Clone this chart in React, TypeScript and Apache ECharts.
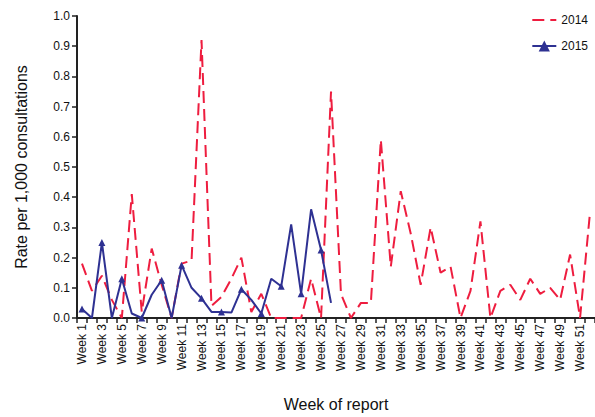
import React, { useEffect, useRef } from "react";
import * as echarts from "echarts";

const categories: string[] = Array.from({ length: 52 }, (_, i) => `Week ${i + 1}`);

const rate2014: number[] = [
  0.18, 0.09, 0.14, 0.06, 0, 0.41, 0.02, 0.23, 0.11, 0,
  0.18, 0.19, 0.92, 0.04, 0.07, 0.13, 0.2, 0.02, 0.08, 0,
  0, 0, 0, 0.13, 0, 0.75, 0.08, 0, 0.05, 0.05,
  0.59, 0.17, 0.42, 0.28, 0.11, 0.3, 0.15, 0.17, 0, 0.09,
  0.32, 0, 0.09, 0.11, 0.06, 0.13, 0.08, 0.1, 0.06, 0.21,
  0, 0.35,
];

const rate2015: number[] = [
  0.03, 0, 0.25, 0, 0.13, 0.015, 0, 0.077, 0.125, 0,
  0.175, 0.1, 0.065, 0.02, 0.02, 0.018, 0.095, 0.06, 0.015, 0.13,
  0.105, 0.31, 0.08, 0.36, 0.225, 0.05,
];

const FONT = "Liberation Sans, Arial, sans-serif";
const RED = "#ee1d3f";
const BLUE = "#2e3192";

export default function App() {
  const ref = useRef<HTMLDivElement>(null);
  useEffect(() => {
    document.body.style.margin = "0";
    if (!ref.current) return;
    const chart = echarts.init(ref.current, undefined, { renderer: "svg" });
    chart.setOption({
      animation: false,
      textStyle: { fontFamily: FONT },
      grid: { left: 77, top: 16, bottom: 96, width: 527 },
      legend: {
        orient: "vertical",
        right: 2,
        top: 9,
        itemWidth: 24,
        itemHeight: 14,
        itemGap: 14,
        textStyle: { fontFamily: FONT, fontSize: 12, color: "#111" },
        data: [
          { name: "2014", itemStyle: { opacity: 0 }, lineStyle: { color: RED, width: 2, type: [12, 6] } },
          { name: "2015" },
        ],
      },
      xAxis: {
        type: "category",
        data: categories,
        boundaryGap: true,
        name: "Week of report",
        nameLocation: "middle",
        nameGap: 78,
        nameTextStyle: { fontFamily: FONT, fontSize: 16, color: "#111" },
        axisLine: { lineStyle: { color: "#222", width: 2 } },
        axisTick: { show: true, interval: 0, length: 5, lineStyle: { color: "#222", width: 1.5 } },
        axisLabel: {
          interval: 1,
          rotate: 90,
          margin: 6,
          fontFamily: FONT,
          fontSize: 12,
          color: "#111",
        },
        splitLine: { show: false },
      },
      yAxis: {
        type: "value",
        min: 0,
        max: 1,
        interval: 0.1,
        name: "Rate per 1,000 consultations",
        nameLocation: "middle",
        nameGap: 48,
        nameRotate: 90,
        nameTextStyle: { fontFamily: FONT, fontSize: 16, color: "#111" },
        axisLine: { show: true, lineStyle: { color: "#222", width: 2 } },
        axisTick: { show: true, length: 5, lineStyle: { color: "#222", width: 1.5 } },
        axisLabel: {
          margin: 7,
          fontFamily: FONT,
          fontSize: 12,
          color: "#111",
          formatter: (v: number) => v.toFixed(1),
        },
        splitLine: { show: false },
      },
      series: [
        {
          name: "2014",
          type: "line",
          data: rate2014,
          symbol: "none",
          itemStyle: { color: RED },
          lineStyle: { color: RED, width: 2, type: [12, 6] },
        },
        {
          name: "2015",
          type: "line",
          data: rate2015,
          symbol: "triangle",
          symbolSize: 7,
          itemStyle: { color: BLUE },
          lineStyle: { color: BLUE, width: 2 },
        },
      ],
    });
    return () => chart.dispose();
  }, []);
  return <div ref={ref} style={{ width: 595, height: 417 }} />;
}
